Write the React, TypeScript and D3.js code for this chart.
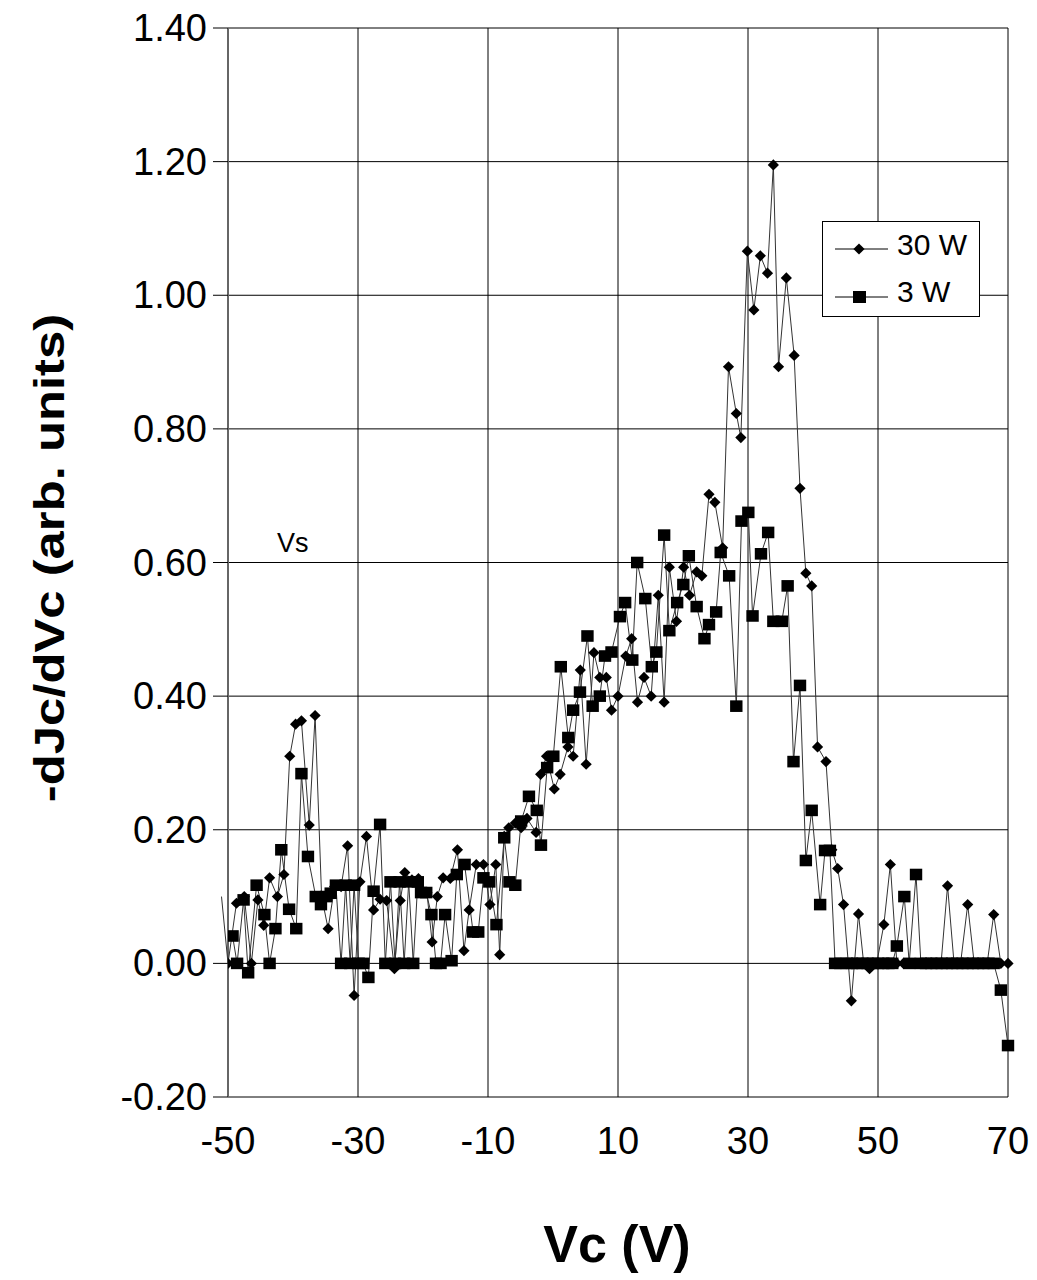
import React from "react";
import * as d3 from "d3";

// 30 W series (diamonds): [Vc, -dJc/dVc]
const series30W: [number, number][] = [
  [-51.0, 0.1], [-50.0, 0.0], [-48.7, 0.09], [-47.5, 0.1], [-46.4, 0.0], [-45.4, 0.095], [-44.5, 0.057],
  [-43.6, 0.128], [-42.4, 0.1], [-41.4, 0.133], [-40.5, 0.31], [-39.6, 0.358], [-38.7, 0.363], [-37.5, 0.207],
  [-36.6, 0.371], [-35.6, 0.1], [-34.6, 0.052], [-33.6, 0.115], [-32.6, 0.115], [-31.6, 0.176], [-30.6, -0.048],
  [-29.7, 0.122], [-28.7, 0.19], [-27.6, 0.08], [-26.6, 0.096], [-25.6, 0.094], [-24.4, -0.008], [-23.5, 0.094],
  [-22.8, 0.136], [-21.7, 0.125], [-20.7, 0.127], [-19.4, 0.106], [-18.6, 0.032], [-17.8, 0.1], [-16.9, 0.128],
  [-15.8, 0.127], [-14.7, 0.17], [-13.7, 0.019], [-12.9, 0.08], [-11.8, 0.148], [-10.7, 0.148], [-9.7, 0.088],
  [-8.8, 0.148], [-8.2, 0.013], [-7.5, 0.19], [-6.8, 0.203], [-5.8, 0.21], [-4.9, 0.203], [-4.0, 0.217],
  [-2.6, 0.196], [-1.9, 0.283], [-1.0, 0.31], [0.2, 0.261], [1.1, 0.283], [2.3, 0.324], [3.1, 0.31],
  [4.2, 0.439], [5.1, 0.298], [6.3, 0.465], [7.2, 0.428], [8.2, 0.428], [9.0, 0.379], [10.0, 0.4],
  [11.2, 0.46], [12.1, 0.486], [13.0, 0.391], [14.0, 0.428], [15.1, 0.4], [16.2, 0.551], [17.1, 0.391],
  [17.9, 0.593], [19.0, 0.512], [20.1, 0.593], [21.0, 0.551], [22.1, 0.586], [22.9, 0.58], [24.0, 0.702],
  [24.9, 0.69], [26.1, 0.622], [27.0, 0.893], [28.2, 0.823], [28.9, 0.787], [29.9, 1.066], [30.9, 0.978],
  [31.9, 1.059], [33.0, 1.033], [33.9, 1.195], [34.7, 0.893], [35.9, 1.026], [37.1, 0.91], [38.0, 0.711],
  [38.9, 0.584], [39.8, 0.565], [40.7, 0.324], [42.0, 0.302], [42.9, 0.17], [43.8, 0.142], [44.7, 0.088],
  [45.9, -0.056], [47.0, 0.074], [47.8, 0.0], [48.7, -0.008], [49.8, 0.0], [50.9, 0.058], [51.9, 0.148],
  [52.9, 0.0], [53.9, 0.0], [54.9, 0.0], [55.9, 0.0], [56.9, 0.0], [57.8, 0.0], [58.8, 0.0], [59.7, 0.0],
  [60.7, 0.116], [61.7, 0.0], [62.7, 0.0], [63.8, 0.088], [64.8, 0.0], [65.8, 0.0], [66.8, 0.0],
  [67.8, 0.073], [68.9, 0.0], [70.0, 0.0],
];

// 3 W series (squares): [Vc, -dJc/dVc]
const series3W: [number, number][] = [
  [-49.3, 0.041], [-48.6, 0.0], [-47.6, 0.095], [-46.9, -0.014], [-45.6, 0.117], [-44.4, 0.073], [-43.6, 0.0],
  [-42.7, 0.052], [-41.8, 0.17], [-40.6, 0.081], [-39.5, 0.052], [-38.7, 0.284], [-37.7, 0.16], [-36.5, 0.1],
  [-35.7, 0.088], [-34.9, 0.1], [-34.2, 0.105], [-33.4, 0.117], [-32.6, 0.0], [-31.9, 0.117], [-31.2, 0.0],
  [-30.6, 0.117], [-29.9, 0.0], [-29.2, 0.0], [-28.4, -0.021], [-27.6, 0.108], [-26.6, 0.208], [-25.8, 0.0],
  [-25.0, 0.122], [-24.3, 0.0], [-23.6, 0.122], [-22.9, 0.0], [-22.2, 0.122], [-21.5, 0.0], [-20.8, 0.122],
  [-20.3, 0.106], [-19.5, 0.106], [-18.7, 0.073], [-18.0, 0.0], [-17.3, 0.0], [-16.6, 0.073], [-15.6, 0.004],
  [-14.8, 0.133], [-13.6, 0.148], [-12.3, 0.047], [-11.5, 0.047], [-10.7, 0.128], [-9.8, 0.122], [-8.7, 0.058],
  [-7.5, 0.188], [-6.7, 0.122], [-5.8, 0.117], [-4.9, 0.213], [-3.7, 0.25], [-2.5, 0.229], [-1.85, 0.177],
  [-0.9, 0.293], [0.05, 0.31], [1.2, 0.444], [2.35, 0.338], [3.1, 0.379], [4.15, 0.406], [5.3, 0.49],
  [6.1, 0.385], [7.2, 0.4], [8.0, 0.46], [9.0, 0.466], [10.3, 0.519], [11.1, 0.54], [12.2, 0.454],
  [12.95, 0.6], [14.2, 0.546], [15.2, 0.444], [15.9, 0.466], [17.1, 0.641], [17.9, 0.498], [19.1, 0.54],
  [20.05, 0.567], [20.9, 0.61], [22.1, 0.534], [23.3, 0.486], [24.0, 0.507], [25.1, 0.526], [25.8, 0.615],
  [27.1, 0.58], [28.2, 0.385], [29.0, 0.662], [30.05, 0.675], [30.7, 0.52], [32.0, 0.613], [33.1, 0.645],
  [33.9, 0.512], [35.2, 0.512], [36.1, 0.565], [37.0, 0.302], [38.0, 0.416], [38.9, 0.154], [39.8, 0.229],
  [41.1, 0.088], [41.85, 0.169], [42.6, 0.169], [43.4, 0.0], [44.2, 0.0], [45.2, 0.0], [46.0, 0.0],
  [46.8, 0.0], [47.6, 0.0], [48.4, 0.0], [49.2, 0.0], [50.0, 0.0], [50.8, 0.0], [51.6, 0.0], [52.2, 0.0],
  [52.9, 0.026], [54.05, 0.1], [54.8, 0.0], [55.85, 0.133], [56.6, 0.0], [57.4, 0.0], [58.2, 0.0],
  [59.0, 0.0], [59.8, 0.0], [60.6, 0.0], [61.4, 0.0], [62.2, 0.0], [63.0, 0.0], [63.8, 0.0], [64.6, 0.0],
  [65.4, 0.0], [66.2, 0.0], [67.0, 0.0], [67.8, 0.0], [68.9, -0.04], [70.0, -0.123],
];

const xTicks = [-50, -30, -10, 10, 30, 50, 70];
const yTicks = [-0.2, 0, 0.2, 0.4, 0.6, 0.8, 1.0, 1.2, 1.4];
const legendLabels = ["30 W", "3 W"];
const xTitle = "Vc (V)";
const yTitle = "-dJc/dVc (arb. units)";
const annotation = "Vs";

const W = 1037;
const H = 1280;
const FONT = "'Liberation Sans', Arial, Helvetica, sans-serif";

export default function App() {
  const x = d3.scaleLinear().domain([-50, 70]).range([228, 1008]);
  const y = d3.scaleLinear().domain([-0.2, 1.4]).range([1097, 28]);
  const line = d3
    .line<[number, number]>()
    .x((d) => x(d[0]))
    .y((d) => y(d[1]));

  const diamond = (cx: number, cy: number, r: number) =>
    `M${cx},${cy - r}L${cx + r},${cy}L${cx},${cy + r}L${cx - r},${cy}Z`;

  return (
    <svg
      width={W}
      height={H}
      viewBox={`0 0 ${W} ${H}`}
      style={{ position: "absolute", left: 0, top: 0, display: "block", background: "#fff" }}
    >
      <defs>
        <clipPath id="plotClip">
          <rect x={x(-50)} y={0} width={x(70) - x(-50) + 20} height={H} />
        </clipPath>
      </defs>
      <rect x={0} y={0} width={W} height={H} fill="#fff" />

      {/* gridlines */}
      {yTicks.map((t) => (
        <line key={"gy" + t} x1={x(-50)} x2={x(70)} y1={y(t)} y2={y(t)} stroke="#000" strokeWidth={1} />
      ))}
      {xTicks.map((t) => (
        <line key={"gx" + t} x1={x(t)} x2={x(t)} y1={y(1.4)} y2={y(-0.2)} stroke="#000" strokeWidth={1} />
      ))}
      {/* y axis line and ticks */}
      <line x1={x(-50)} x2={x(-50)} y1={y(1.4)} y2={y(-0.2)} stroke="#666" strokeWidth={2} />
      {yTicks.map((t) => (
        <line key={"ty" + t} x1={x(-50) - 15} x2={x(-50)} y1={y(t)} y2={y(t)} stroke="#000" strokeWidth={1} />
      ))}

      {/* y tick labels */}
      {yTicks.map((t) => (
        <text
          key={"ly" + t}
          x={207}
          y={y(t)}
          textAnchor="end"
          dominantBaseline="central"
          fontFamily={FONT}
          fontSize={38}
          fill="#000"
        >
          {t.toFixed(2)}
        </text>
      ))}
      {/* x tick labels */}
      {xTicks.map((t) => (
        <text
          key={"lx" + t}
          x={x(t)}
          y={1141}
          textAnchor="middle"
          dominantBaseline="central"
          fontFamily={FONT}
          fontSize={38}
          fill="#000"
        >
          {String(t)}
        </text>
      ))}

      {/* series lines */}
      <path d={line(series30W) || ""} fill="none" stroke="#333" strokeWidth={1} />
      <path d={line(series3W) || ""} fill="none" stroke="#333" strokeWidth={1} />

      {/* markers */}
      <g clipPath="url(#plotClip)">
        {series3W.map((d, i) => (
          <rect key={"s" + i} x={x(d[0]) - 6.2} y={y(d[1]) - 5.8} width={12.4} height={11.6} fill="#000" />
        ))}
        {series30W.map((d, i) => (
          <path key={"d" + i} d={diamond(x(d[0]), y(d[1]), 5.6)} fill="#000" />
        ))}
      </g>

      {/* annotation */}
      <text x={277} y={552} fontFamily={FONT} fontSize={27} fill="#000">
        {annotation}
      </text>

      {/* legend */}
      <rect x={822.5} y={221.5} width={157} height={95} fill="#fff" stroke="#000" strokeWidth={1} />
      <line x1={835} x2={888} y1={249} y2={249} stroke="#000" strokeWidth={1} />
      <path d={diamond(859, 249, 5.6)} fill="#000" />
      <line x1={835} x2={888} y1={297} y2={297} stroke="#000" strokeWidth={1} />
      <rect x={853} y={291} width={13} height={12} fill="#000" />
      {legendLabels.map((l, i) => (
        <text key={l} x={897} y={255 + i * 47} fontFamily={FONT} fontSize={30} fill="#000">
          {l}
        </text>
      ))}

      {/* axis titles */}
      <text
        x={617}
        y={1262}
        textAnchor="middle"
        fontFamily={FONT}
        fontWeight="bold"
        fontSize={52}
        fill="#000"
      >
        {xTitle}
      </text>
      <text
        transform="translate(50,558) rotate(-90) scale(1.21,1)"
        textAnchor="middle"
        dominantBaseline="central"
        fontFamily={FONT}
        fontWeight="bold"
        fontSize={42}
        fill="#000"
      >
        {yTitle}
      </text>
    </svg>
  );
}
